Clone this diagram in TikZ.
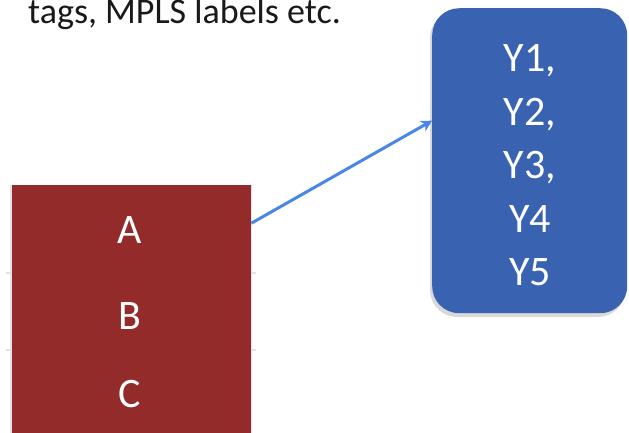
\documentclass[tikz,border=0pt]{standalone}
\usepackage{fontspec}
\setmainfont{Carlito}
\usetikzlibrary{arrows.meta}
\definecolor{boxred}{RGB}{147,43,43}
\definecolor{boxblue}{RGB}{57,99,176}
\definecolor{arrowblue}{RGB}{74,134,232}
\begin{document}
\begin{tikzpicture}[x=1pt,y=-1pt,
  redcell/.style={fill=boxred, minimum width=240pt, inner sep=0pt, anchor=north west},
  celltext/.style={text=white, font=\fontsize{42}{50}\selectfont, anchor=base, inner sep=0pt},
  bluebox/.style={fill=boxblue, rounded corners=27pt, minimum width=195pt, minimum height=305pt, inner sep=0pt, anchor=north west},
  edge/.style={draw=gray!22, line width=1.2pt},
  link/.style={draw=arrowblue, line width=3pt, -{Stealth[length=11pt,width=12pt]}}]
\useasboundingbox (0,0) rectangle (629,432);
\clip (0,0) rectangle (629,432);
% heading text
\node[anchor=base west, inner sep=0pt, font=\fontsize{36}{40}\selectfont, text=black!90] (head) at (28,23) {tags, MPLS labels etc.};
% red stack
\node[redcell, minimum height=88pt] (A) at (11,185) {};
\node[redcell, minimum height=77pt] (B) at (11,273) {};
\node[redcell, minimum height=90pt] (C) at (11,350) {};
\draw[edge] (A.north west) -- (C.south west);
\draw[edge] (A.north east) -- (C.south east);
\draw[edge] ([xshift=-5pt]B.north west) -- (B.north west) ([xshift=5pt]B.north east) -- (B.north east);
\draw[edge] ([xshift=-5pt]C.north west) -- (C.north west) ([xshift=5pt]C.north east) -- (C.north east);
\node[celltext] (tA) at (130,243) {A};
\node[celltext] (tB) at (130,329) {B};
\node[celltext] (tC) at (130,407) {C};
% blue box with shadow
\fill[gray!30, rounded corners=27pt] (430,11) rectangle (625,317);
\node[bluebox] (Y) at (432,8) {};
\node[celltext] (y1) at (530,71) {Y1,};
\node[celltext] (y2) at (530,125) {Y2,};
\node[celltext] (y3) at (530,178) {Y3,};
\node[celltext] (y4) at (530,232) {Y4};
\node[celltext] (y5) at (530,285) {Y5};
% arrow
\coordinate (start) at ([yshift=6pt]A.east);
\coordinate (tip) at ([yshift=40pt]Y.west);
\draw[link] (start) -- (tip);
\end{tikzpicture}
\end{document}
